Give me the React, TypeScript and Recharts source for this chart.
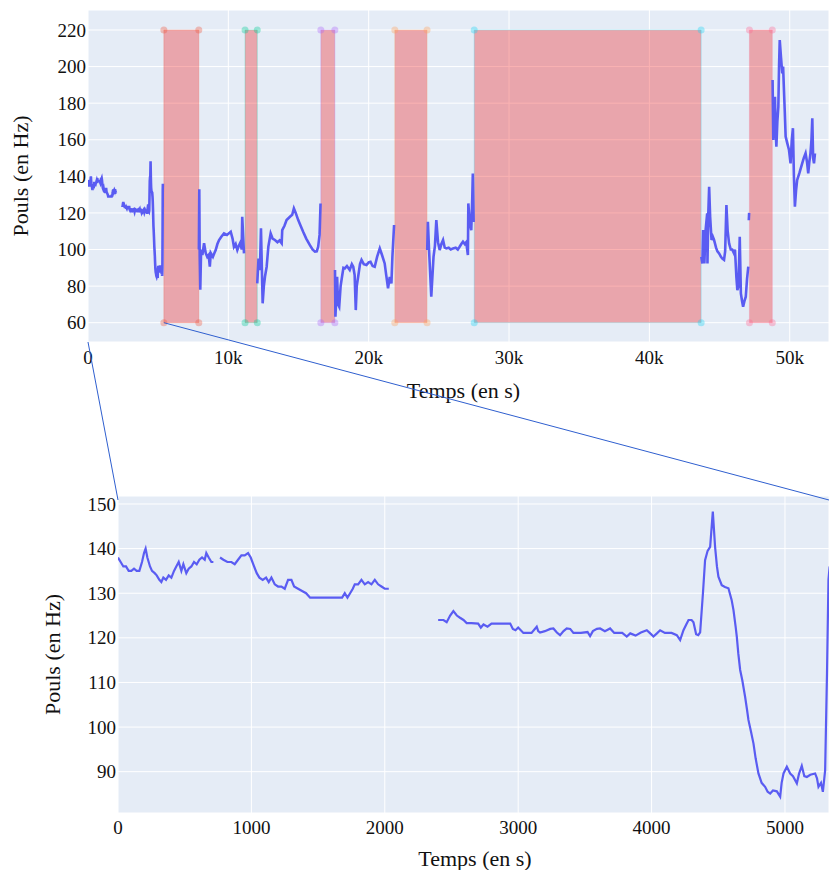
import {
  CartesianGrid,
  ComposedChart,
  Line,
  ReferenceArea,
  Scatter,
  XAxis,
  YAxis
} from "recharts";

type Sample = [number, number];
type Row = { t: number; hr: number | null };

// first 5.3k seconds, shown in detail in the lower chart
const warmup: Sample[] = [
  [0, 138], [20, 137], [40, 136], [60, 136], [80, 135], [100, 135], [120, 135.5], [140, 135],
  [160, 135], [180, 137], [195, 139], [207, 140], [220, 138], [240, 136], [255, 135], [275, 134.5],
  [290, 134], [310, 133], [325, 132.5], [340, 133.5], [360, 133], [380, 134], [400, 133.5],
  [420, 135], [437, 136], [455, 137], [475, 135], [490, 136.5], [512, 134.5], [530, 135.5],
  [550, 136], [570, 137], [590, 136.5], [610, 137.5], [630, 138], [650, 137.5], [662, 139],
  [680, 138], [700, 137], [715, 137]
];

const steady: Sample[] = [
  [765, 138], [790, 137.5], [820, 137], [850, 137], [875, 136.5], [900, 137.5], [925, 138.5],
  [950, 138.5], [975, 139], [995, 138], [1020, 136], [1040, 134.5], [1060, 133.5], [1085, 133],
  [1110, 133.5], [1130, 132.5], [1150, 133.5], [1175, 132], [1200, 131.5], [1225, 131.5],
  [1250, 131], [1275, 133], [1300, 133], [1320, 131.5], [1350, 131], [1380, 130.5], [1410, 130],
  [1440, 129], [1500, 129], [1560, 129], [1620, 129], [1680, 129], [1700, 130], [1720, 129],
  [1740, 130], [1760, 131], [1775, 132], [1800, 132], [1825, 133], [1850, 132], [1875, 132.5],
  [1900, 132], [1925, 133], [1950, 132], [1975, 131.5], [2000, 131], [2030, 131]
];

const plateauAndDrop: Sample[] = [
  [2400, 124], [2440, 124], [2464, 123.5], [2490, 125], [2514, 126], [2540, 125], [2564, 124.5],
  [2590, 124], [2614, 123.3], [2650, 123.3], [2700, 123.2], [2720, 122.3], [2740, 123],
  [2770, 122.5], [2800, 123.2], [2850, 123.2], [2900, 123.2], [2940, 123.2], [2960, 122],
  [2980, 121.7], [3000, 122.3], [3039, 121.1], [3100, 121.1], [3139, 122.5], [3150, 121.5],
  [3164, 121.2], [3200, 121.5], [3240, 122], [3264, 122.1], [3290, 121.2], [3314, 120.6],
  [3340, 121.5], [3364, 122.1], [3390, 122], [3414, 121.1], [3470, 121.1], [3520, 121.3],
  [3539, 120.4], [3560, 121.5], [3590, 122], [3614, 122.1], [3650, 121.5], [3689, 122.1],
  [3720, 121.1], [3780, 121.1], [3814, 120.3], [3840, 121], [3880, 120.5], [3920, 121.2],
  [3964, 121.7], [3990, 121], [4014, 120.3], [4040, 121], [4064, 121.7], [4100, 121.1],
  [4150, 121.1], [4189, 120.6], [4214, 119.5], [4239, 121.7], [4260, 123], [4277, 124],
  [4300, 124], [4314, 123.5], [4334, 120.8], [4350, 120.6], [4364, 121.2], [4385, 130],
  [4401, 137.4], [4420, 139.5], [4439, 140.4], [4459, 148.3], [4476, 140.4], [4490, 136],
  [4501, 133.7], [4526, 131.8], [4550, 131.4], [4576, 131.1], [4600, 128.5], [4614, 126.2],
  [4630, 122.5], [4639, 120.2], [4650, 116.5], [4664, 112.8], [4680, 110.5], [4701, 106.8],
  [4715, 104], [4726, 101.6], [4745, 99], [4764, 96.3], [4780, 93], [4801, 89.6], [4825, 87.5],
  [4851, 86.6], [4870, 85.5], [4889, 85.1], [4910, 85.8], [4939, 85.6], [4964, 84.4],
  [4975, 87.5], [4989, 89.6], [5014, 91.1], [5039, 89.6], [5060, 89], [5089, 87.4],
  [5105, 89.5], [5126, 91.3], [5145, 89], [5164, 88.8], [5190, 89.3], [5226, 89.6],
  [5240, 88.5], [5251, 86.6], [5270, 87.5], [5284, 85.5], [5301, 90.3], [5315, 112],
  [5326, 133], [5335, 136]
];

// rest of the recording, between the gaps
const afterGap1: Sample[] = [
  [7900, 100], [7930, 133], [7960, 96], [8000, 78], [8060, 100], [8150, 97], [8270, 103.4],
  [8390, 98], [8500, 96], [8600, 97], [8680, 90.6], [8750, 98], [8900, 96], [9000, 98],
  [9100, 99.7], [9220, 103], [9340, 105.2], [9500, 107], [9690, 108.8], [9900, 108],
  [10170, 109.7], [10300, 106], [10400, 101.5], [10520, 103], [10640, 99.7], [10750, 102],
  [10870, 104], [10950, 100], [10990, 117.9], [11050, 108], [11115, 97.9]
];

const afterGap2: Sample[] = [
  [12060, 81.5], [12150, 95], [12250, 88.8], [12325, 111.6], [12445, 70.6], [12530, 80],
  [12610, 85.1], [12730, 90.6], [12850, 101.5], [13015, 108.8], [13150, 106], [13320, 105.2],
  [13500, 104], [13650, 105], [13800, 103.4], [13840, 110.6], [14000, 113], [14150, 116.1],
  [14390, 117.9], [14550, 119], [14670, 122.5], [14800, 120], [14980, 116.1], [15150, 113],
  [15330, 109.7], [15550, 106], [15810, 102.4], [16000, 100], [16170, 98.8], [16300, 99],
  [16400, 101.5], [16500, 108], [16570, 125.2]
];

const afterGap3: Sample[] = [
  [17600, 88.8], [17630, 63.3], [17700, 75], [17750, 85.1], [17820, 70], [17900, 68.7],
  [18000, 80], [18100, 85.1], [18200, 90], [18300, 89.7], [18450, 91], [18650, 88.8],
  [18800, 92], [18900, 90.6], [19000, 86], [19080, 66.9], [19150, 80], [19250, 85.1],
  [19380, 92], [19490, 94.3], [19650, 92], [19840, 91.5], [20000, 93], [20130, 93.3],
  [20280, 91], [20430, 90.6], [20600, 96], [20790, 100.6], [20950, 97], [21140, 92.4],
  [21250, 86], [21380, 78.8], [21500, 85], [21620, 81.5], [21690, 96], [21810, 113.4]
];

const afterGap4: Sample[] = [
  [24170, 99.7], [24220, 115.2], [24300, 100], [24460, 74.2], [24620, 96], [24720, 102],
  [24820, 116.1], [24940, 104], [25060, 99.7], [25180, 103], [25300, 105.2], [25420, 101],
  [25530, 100.6], [25700, 101], [25850, 100], [26010, 100.6], [26200, 101], [26350, 100],
  [26480, 101.5], [26600, 103], [26720, 104.3], [26850, 103], [26950, 104], [27070, 97],
  [27100, 125.2], [27200, 115], [27310, 110.6], [27380, 128], [27420, 141.6], [27480, 115]
];

const afterGap5: Sample[] = [
  [43700, 96], [43780, 92.4], [43830, 110.6], [43920, 92.4], [44000, 110], [44120, 119.8],
  [44140, 92.4], [44200, 120], [44260, 134.3], [44330, 118], [44430, 105.2], [44520, 107],
  [44610, 105.2], [44750, 101], [44850, 99], [44970, 97.9], [45100, 96], [45200, 95],
  [45320, 94.3], [45400, 99], [45490, 124.3], [45580, 110], [45680, 103.4], [45800, 100],
  [45900, 100], [46030, 97.9], [46100, 100], [46200, 85], [46270, 77.8], [46350, 80],
  [46440, 107], [46520, 76], [46600, 72], [46680, 68.7], [46780, 72], [46870, 74.2],
  [46960, 84], [47050, 90.6]
];

const blip: Sample[] = [[47085, 116], [47110, 120]];

const afterGap6: Sample[] = [
  [48780, 192.7], [48830, 159.9], [48890, 175], [48950, 183.5], [49000, 165], [49050, 156.2],
  [49120, 170], [49190, 178], [49240, 200], [49290, 214.5], [49380, 205], [49470, 196.3],
  [49530, 200], [49590, 187.2], [49650, 175], [49710, 161.7], [49830, 158], [49950, 154.4],
  [50060, 147.1], [50150, 160], [50230, 166.3], [50300, 140], [50370, 123.4], [50450, 132],
  [50530, 138], [50700, 142], [50890, 147.1], [51000, 150], [51130, 152.6], [51230, 148],
  [51320, 141.6], [51400, 148], [51480, 152.6], [51550, 160], [51610, 171.7], [51670, 150],
  [51730, 147.1], [51800, 152.6]
];

// missing-signal periods
const gapStart = [5405, 11190, 16590, 21860, 27520, 47130];
const gapEnd = [7895, 12060, 17590, 24160, 43690, 48760];
const gapColors = ["#EF553B", "#00CC96", "#AB63FA", "#FFA15A", "#19D3F3", "#FF6692"];
const bandLow = 60;
const bandHigh = 220;

const overviewXTicks = [0, 10000, 20000, 30000, 40000, 50000];
const overviewYTicks = [60, 80, 100, 120, 140, 160, 180, 200, 220];
const zoomXTicks = [0, 1000, 2000, 3000, 4000, 5000];
const zoomYTicks = [90, 100, 110, 120, 130, 140, 150];

const overviewX: [number, number] = [0, 52800];
const overviewY: [number, number] = [49.45, 230.93];
const zoomX: [number, number] = [0, 5330];
const zoomY: [number, number] = [80.74, 151.79];

const FONT = '"Liberation Serif", "Times New Roman", serif';
const INK = "#111";
const LINE = "#5a5cf2";
const BG = "#E5ECF6";

function joinSegments(segments: Sample[][]): Row[] {
  const rows: Row[] = [];
  segments.forEach((seg, i) => {
    if (i > 0) rows.push({ t: seg[0][0] - 1, hr: null });
    seg.forEach(([t, hr]) => rows.push({ t, hr }));
  });
  return rows;
}

const zoomRows = joinSegments([warmup, steady, plateauAndDrop]);
const overviewRows = joinSegments([
  warmup, steady, plateauAndDrop, afterGap1, afterGap2, afterGap3,
  afterGap4, afterGap5, blip, afterGap6
]);

// plot boxes (page pixels)
const top = { left: 88, top: 10, right: 829, bottom: 342 };
const bottomOffset = 470;
const bottom = { left: 118, top: 496, right: 829, bottom: 813 };

function overviewPx(t: number, v: number) {
  const x = top.left + ((t - overviewX[0]) / (overviewX[1] - overviewX[0])) * (top.right - top.left);
  const y = top.top + ((overviewY[1] - v) / (overviewY[1] - overviewY[0])) * (top.bottom - top.top);
  return { x, y };
}

const titleStyle = { fill: INK, fontSize: 22, fontFamily: FONT };

function kFormat(v: number) {
  return v === 0 ? "0" : `${v / 1000}k`;
}

function makeXTick(format: (v: number) => string) {
  return (props: any) => (
    <text
      x={props.x}
      y={props.y}
      dy="0.71em"
      textAnchor="middle"
      fill={INK}
      style={{ fontFamily: FONT, fontSize: 19 }}
    >
      {format(props.payload.value)}
    </text>
  );
}

function yTick(props: any) {
  return (
    <text
      x={props.x}
      y={props.y}
      dy="0.35em"
      textAnchor="end"
      fill={INK}
      style={{ fontFamily: FONT, fontSize: 19 }}
    >
      {props.payload.value}
    </text>
  );
}

export default function App() {
  const zoomCorner = overviewPx(gapStart[0], bandLow);

  return (
    <div
      style={{
        position: "absolute",
        left: 0,
        top: 0,
        width: 829,
        height: 870,
        background: "#fff",
        fontFamily: FONT
      }}
    >
      <div style={{ position: "absolute", left: 0, top: 0 }}>
        <ComposedChart
          width={829}
          height={410}
          data={overviewRows}
          margin={{ top: 10, right: 0, bottom: 0, left: 0 }}
        >
          <CartesianGrid fill={BG} stroke="#fff" strokeWidth={1} />
          <XAxis
            type="number"
            dataKey="t"
            domain={overviewX}
            ticks={overviewXTicks}
            allowDataOverflow
            axisLine={false}
            tickLine={false}
            tickSize={0}
            tickMargin={9}
            height={68}
            tick={makeXTick(kFormat)}
            label={{ value: "Temps (en s)", position: "center", dx: 5, dy: 14, style: titleStyle }}
          />
          <YAxis
            type="number"
            domain={overviewY}
            ticks={overviewYTicks}
            allowDataOverflow
            axisLine={false}
            tickLine={false}
            tickSize={0}
            tickMargin={2}
            width={88}
            tick={yTick}
            label={{ value: "Pouls (en Hz)", angle: -90, position: "center", dx: -24, style: titleStyle }}
          />
          <Line
            dataKey="hr"
            stroke={LINE}
            strokeWidth={2.6}
            dot={false}
            activeDot={false}
            connectNulls={false}
            type="linear"
            isAnimationActive={false}
          />
          {gapStart.map((x1, i) => (
            <ReferenceArea
              key={`gap-${i}`}
              x1={x1}
              x2={gapEnd[i]}
              y1={bandLow}
              y2={bandHigh}
              fill="#f20000"
              fillOpacity={0.3}
              stroke={gapColors[i]}
              strokeOpacity={0.25}
            />
          ))}
          {gapStart.map((x1, i) => (
            <Scatter
              key={`corners-${i}`}
              data={[
                { t: x1, hr: bandLow },
                { t: gapEnd[i], hr: bandLow },
                { t: x1, hr: bandHigh },
                { t: gapEnd[i], hr: bandHigh }
              ]}
              dataKey="hr"
              isAnimationActive={false}
              shape={(p: any) => (
                <circle cx={p.cx} cy={p.cy} r={3.5} fill={gapColors[i]} fillOpacity={0.35} />
              )}
            />
          ))}
        </ComposedChart>
      </div>

      <div style={{ position: "absolute", left: 0, top: bottomOffset }}>
        <ComposedChart
          width={829}
          height={400}
          data={zoomRows}
          margin={{ top: bottom.top - bottomOffset, right: 0, bottom: 0, left: 0 }}
        >
          <CartesianGrid fill={BG} stroke="#fff" strokeWidth={1} />
          <XAxis
            type="number"
            dataKey="t"
            domain={zoomX}
            ticks={zoomXTicks}
            allowDataOverflow
            axisLine={false}
            tickLine={false}
            tickSize={0}
            tickMargin={8}
            height={57}
            tick={makeXTick((v) => String(v))}
            label={{ value: "Temps (en s)", position: "center", dx: 1.5, dy: 16.5, style: titleStyle }}
          />
          <YAxis
            type="number"
            domain={zoomY}
            ticks={zoomYTicks}
            allowDataOverflow
            axisLine={false}
            tickLine={false}
            tickSize={0}
            tickMargin={2}
            width={118}
            tick={yTick}
            label={{ value: "Pouls (en Hz)", angle: -90, position: "center", dx: -6.5, style: titleStyle }}
          />
          <Line
            dataKey="hr"
            stroke={LINE}
            strokeWidth={2.2}
            dot={false}
            activeDot={false}
            connectNulls={false}
            type="linear"
            isAnimationActive={false}
          />
        </ComposedChart>
      </div>

      {/* zoom connectors */}
      <svg
        width={829}
        height={870}
        style={{ position: "absolute", left: 0, top: 0, pointerEvents: "none" }}
      >
        <line x1={top.left} y1={top.bottom} x2={bottom.left} y2={bottom.top + 4} stroke="#2f5fcf" strokeWidth={1} />
        <line x1={zoomCorner.x} y1={zoomCorner.y} x2={bottom.right} y2={bottom.top + 4} stroke="#2f5fcf" strokeWidth={1} />
      </svg>
    </div>
  );
}
